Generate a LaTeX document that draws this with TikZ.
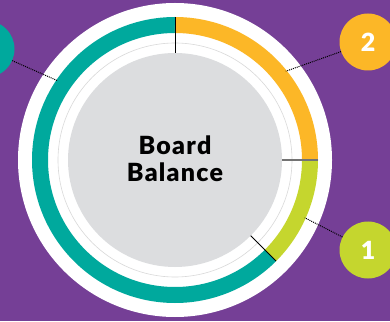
\documentclass[tikz,border=0pt]{standalone}
\usepackage{fontspec}
\setmainfont{Lato}
\newfontfamily\heavyfont{Lato Black}
\newfontfamily\titlefont{Lato Black}[LetterSpace=5]
\usetikzlibrary{positioning,calc}
\definecolor{bgpurple}{RGB}{117,63,150}
\definecolor{ringteal}{RGB}{0,169,157}
\definecolor{ringyellow}{RGB}{252,183,39}
\definecolor{ringgreen}{RGB}{197,214,46}
\definecolor{diskgray}{RGB}{220,221,223}

\begin{document}
\begin{tikzpicture}[x=1pt,y=1pt]
\tikzset{
  seg/.style={line width=16pt},
  tick/.style={line width=1pt,draw=black},
  callout/.style={circle,minimum size=57pt,inner sep=0pt,text=white,font=\fontsize{25}{25}\selectfont\heavyfont},
  lead/.style={line width=1pt,dash pattern=on 1pt off 1pt}
}
\useasboundingbox (0,0) rectangle (390,321);
\fill[bgpurple] (0,0) rectangle (390,321);

\coordinate (c) at (175,161);

% white backing disk
\fill[white] (c) circle (157);

% board segments
\draw[seg,ringteal] ([shift={(90:135)}]c) arc (90:315:135);
\draw[seg,ringgreen] ([shift={(-45:135)}]c) arc (-45:0:135);
\draw[seg,ringyellow] ([shift={(0:135)}]c) arc (0:90:135);

% inner disk
\draw[line width=0.6pt,black!15] (c) circle (117);
\fill[diskgray] (c) circle (107);

% segment borders
\draw[tick] ($(c)+(90:107)$) -- ($(c)+(90:143)$);
\draw[tick] ($(c)+(-45:107)$) -- ($(c)+(-45:143)$);
\draw[line width=1.6pt,black!55] ($(c)+(0:107)$) -- ($(c)+(0:143)$);

\node[align=center,font=\fontsize{25}{27}\selectfont\titlefont] (title) at (175,162) {Board\\Balance};

% callouts
\node[callout,fill=ringteal] (k3) at (-14,272) {};
\node[callout,fill=ringyellow] (k2) at (368,279) {2};
\node[callout,fill=ringgreen] (k1) at (368,71) {1};

\coordinate (p3) at ($(c)+(146:142)$);
\coordinate (p2) at ($(c)+(38.7:142)$);
\coordinate (p1) at ($(c)+(-24:142)$);

\draw[lead] (k3) -- (p3);
\draw[lead] (k2) -- (p2);
\draw[lead] (k1) -- (p1);
\end{tikzpicture}
\end{document}
